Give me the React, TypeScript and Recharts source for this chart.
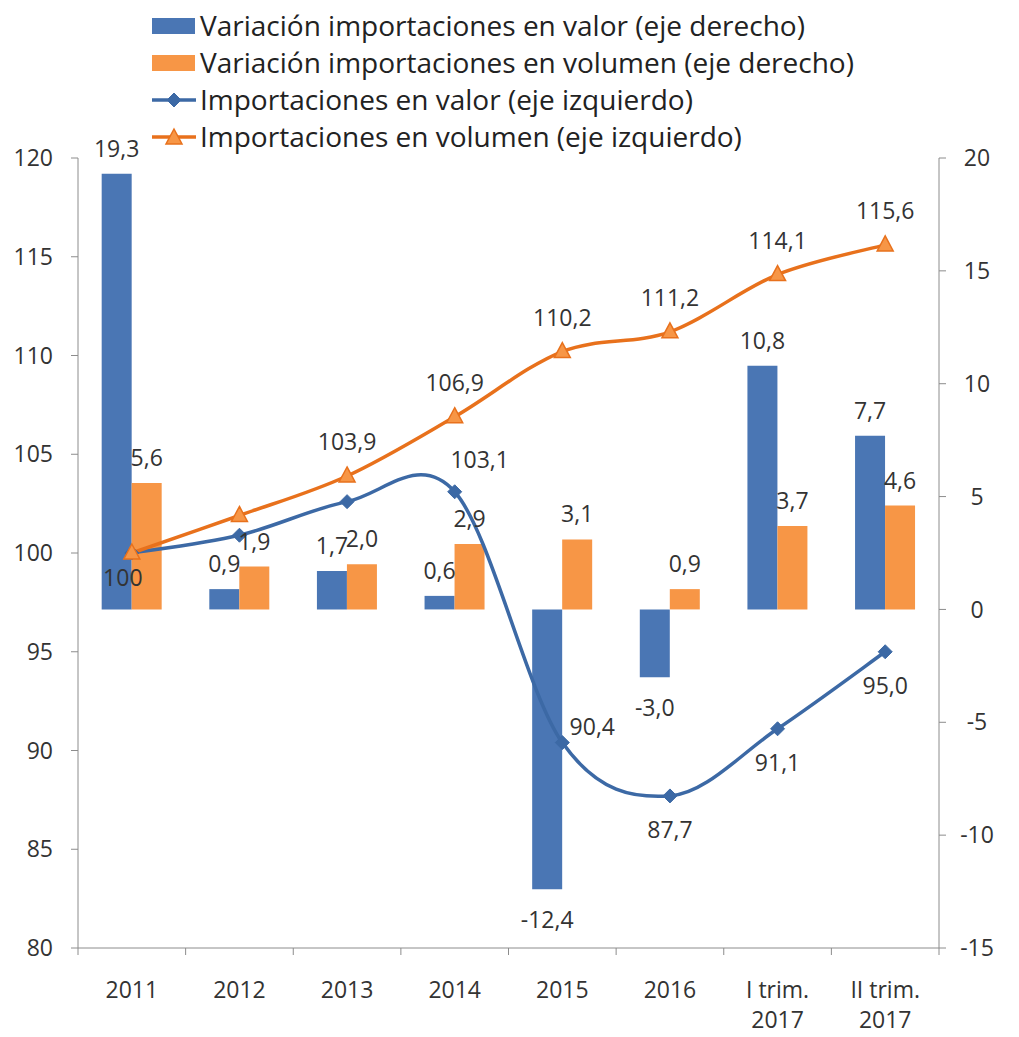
import React from "react";
import { ComposedChart, Bar, Line, XAxis, YAxis, LabelList, Legend } from "recharts";

const categories = ["2011", "2012", "2013", "2014", "2015", "2016", "I trim.\n2017", "II trim.\n2017"];
const valueChange = [19.3, 0.9, 1.7, 0.6, -12.4, -3.0, 10.8, 7.7];
const volumeChange = [5.6, 1.9, 2.0, 2.9, 3.1, 0.9, 3.7, 4.6];
const valueIndex = [100, 100.9, 102.6, 103.1, 90.4, 87.7, 91.1, 95.0];
const volumeIndex = [100, 101.9, 103.9, 106.9, 110.2, 111.2, 114.1, 115.6];
const leftTicks = [80, 85, 90, 95, 100, 105, 110, 115, 120];
const rightTicks = [-15, -10, -5, 0, 5, 10, 15, 20];

const seriesNames = [
  "Variación importaciones en valor (eje derecho)",
  "Variación importaciones en volumen (eje derecho)",
  "Importaciones en valor (eje izquierdo)",
  "Importaciones en volumen (eje izquierdo)",
];

// where each line label sits next to its point (null = no label)
const valueLabelSpots = ["belowLeft", null, null, "upRight", "right", "below", "below", "below"];
const volumeLabelSpots = [null, null, "above", "above", "above", "above", "above", "above"];

const rows = categories.map((name, i) => ({
  name,
  valueChange: valueChange[i],
  volumeChange: volumeChange[i],
  valueIndex: valueIndex[i],
  volumeIndex: volumeIndex[i],
}));

const FONT = "'Open Sans', sans-serif";
const TEXT = "#333333";
const AXIS = "#8c8c8c";
const BLUE_BAR = "#4a76b4";
const ORANGE_BAR = "#f79646";
const BLUE_LINE = "#3c69a5";
const ORANGE_LINE = "#e8711c";
const SIZE = 23;

const fmt = (v: number) => (v === 100 ? "100" : v.toFixed(1).replace(".", ","));

// Excel-like smoothed line (Catmull-Rom through the points)
const excelSmooth = (context: any) => {
  let pts: number[][] = [];
  return {
    areaStart() {},
    areaEnd() {},
    lineStart() {
      pts = [];
    },
    point(x: number, y: number) {
      pts.push([+x, +y]);
    },
    lineEnd() {
      const n = pts.length;
      if (!n) return;
      context.moveTo(pts[0][0], pts[0][1]);
      for (let i = 0; i < n - 1; i++) {
        const p0 = pts[Math.max(i - 1, 0)];
        const p1 = pts[i];
        const p2 = pts[i + 1];
        const p3 = pts[Math.min(i + 2, n - 1)];
        context.bezierCurveTo(
          p1[0] + (p2[0] - p0[0]) / 6,
          p1[1] + (p2[1] - p0[1]) / 6,
          p2[0] - (p3[0] - p1[0]) / 6,
          p2[1] - (p3[1] - p1[1]) / 6,
          p2[0],
          p2[1]
        );
      }
    },
  };
};

const Diamond = ({ cx, cy }: any) => (
  <polygon
    points={`${cx},${cy - 7} ${cx + 7},${cy} ${cx},${cy + 7} ${cx - 7},${cy}`}
    fill={BLUE_LINE}
    stroke={BLUE_LINE}
  />
);

const Triangle = ({ cx, cy }: any) => (
  <polygon
    points={`${cx},${cy - 9} ${cx + 8},${cy + 6} ${cx - 8},${cy + 6}`}
    fill={ORANGE_BAR}
    stroke={ORANGE_LINE}
    strokeWidth={1.5}
  />
);

const barLabel = (props: any) => {
  const { x, y, width, height, value } = props;
  const top = Math.min(y, y + height);
  const bottom = Math.max(y, y + height);
  return (
    <text
      x={x + width / 2}
      y={value < 0 ? bottom + 39 : top - 17}
      textAnchor="middle"
      fill={TEXT}
      fontSize={SIZE}
      fontFamily={FONT}
    >
      {fmt(value)}
    </text>
  );
};

const spotOffset: Record<string, [number, number]> = {
  above: [0, -26],
  below: [0, 42],
  belowLeft: [-9, 33],
  upRight: [25, -24],
  right: [30, -8],
};

const lineLabel = (spots: (string | null)[]) => (props: any) => {
  const { x, y, value, index } = props;
  const spot = spots[index];
  if (!spot) return null;
  const [dx, dy] = spotOffset[spot];
  return (
    <text x={x + dx} y={y + dy} textAnchor="middle" fill={TEXT} fontSize={SIZE} fontFamily={FONT}>
      {fmt(value)}
    </text>
  );
};

const CategoryTick = (props: any) => {
  const { x, y, payload, index, visibleTicksCount, width } = props;
  const half = payload.offset || width / visibleTicksCount / 2;
  const lines = String(payload.value).split("\n");
  return (
    <g>
      <line x1={x - half} y1={y} x2={x - half} y2={y + 7} stroke={AXIS} />
      {index === visibleTicksCount - 1 && (
        <line x1={x + half} y1={y} x2={x + half} y2={y + 7} stroke={AXIS} />
      )}
      <text x={x} y={y + 50} textAnchor="middle" fill={TEXT} fontSize={SIZE} fontFamily={FONT}>
        {lines.map((l, i) => (
          <tspan key={i} x={x} dy={i === 0 ? 0 : 30}>
            {l}
          </tspan>
        ))}
      </text>
    </g>
  );
};

const LegendIcon = ({ type, color }: any) => {
  if (type === "rect") {
    return <rect x={0} y={10} width={43} height={16} fill={color} />;
  }
  return (
    <g>
      <line x1={0} y1={18} x2={44} y2={18} stroke={color} strokeWidth={3.5} />
      {type === "diamond" ? <Diamond cx={22} cy={18} /> : <Triangle cx={22} cy={19} />}
    </g>
  );
};

const renderLegend = ({ payload }: any) => {
  const items = [...(payload || [])].sort(
    (a: any, b: any) => seriesNames.indexOf(a.value) - seriesNames.indexOf(b.value)
  );
  return (
    <div style={{ fontFamily: FONT, fontSize: 28, color: "#222" }}>
      {items.map((entry: any, i: number) => (
        <div key={i} style={{ display: "flex", alignItems: "center", height: 37, whiteSpace: "nowrap" }}>
          <svg width={48} height={36} style={{ flexShrink: 0 }}>
            <LegendIcon type={entry.type} color={entry.color} />
          </svg>
          <span style={{ lineHeight: "37px" }}>{entry.value}</span>
        </div>
      ))}
    </div>
  );
};

export default function App() {
  return (
    <ComposedChart
      width={1003}
      height={1029}
      data={rows}
      margin={{ top: 150, right: 0, bottom: 19, left: 0 }}
      barCategoryGap="22%"
      barGap={0}
    >
      <Legend
        layout="vertical"
        align="center"
        verticalAlign="middle"
        wrapperStyle={{ top: -1, left: 144, width: "auto" }}
        content={renderLegend}
      />
      <XAxis
        dataKey="name"
        tickSize={0}
        tickMargin={0}
        height={70}
        interval={0}
        axisLine={{ stroke: AXIS }}
        tickLine={false}
        tick={<CategoryTick />}
      />
      <YAxis
        yAxisId="left"
        orientation="left"
        width={70}
        domain={[80, 120]}
        ticks={leftTicks}
        interval={0}
        tickSize={7}
        tickMargin={18}
        axisLine={{ stroke: AXIS }}
        tickLine={{ stroke: AXIS }}
        tick={{ fill: TEXT, fontSize: SIZE, fontFamily: FONT }}
      />
      <YAxis
        yAxisId="right"
        orientation="right"
        width={72}
        domain={[-15, 20]}
        ticks={rightTicks}
        interval={0}
        tickSize={7}
        tickMargin={31}
        axisLine={{ stroke: AXIS }}
        tickLine={{ stroke: AXIS }}
        tick={{ fill: TEXT, fontSize: SIZE, fontFamily: FONT, textAnchor: "middle" }}
      />
      <Bar
        yAxisId="right"
        dataKey="valueChange"
        name={seriesNames[0]}
        fill={BLUE_BAR}
        legendType="rect"
        isAnimationActive={false}
      >
        <LabelList dataKey="valueChange" content={barLabel} />
      </Bar>
      <Bar
        yAxisId="right"
        dataKey="volumeChange"
        name={seriesNames[1]}
        fill={ORANGE_BAR}
        legendType="rect"
        isAnimationActive={false}
      >
        <LabelList dataKey="volumeChange" content={barLabel} />
      </Bar>
      <Line
        yAxisId="left"
        dataKey="valueIndex"
        name={seriesNames[2]}
        type={excelSmooth as any}
        stroke={BLUE_LINE}
        strokeWidth={3.5}
        dot={<Diamond />}
        activeDot={false}
        legendType="diamond"
        isAnimationActive={false}
      >
        <LabelList dataKey="valueIndex" content={lineLabel(valueLabelSpots)} />
      </Line>
      <Line
        yAxisId="left"
        dataKey="volumeIndex"
        name={seriesNames[3]}
        type={excelSmooth as any}
        stroke={ORANGE_LINE}
        strokeWidth={3.5}
        dot={<Triangle />}
        activeDot={false}
        legendType="triangle"
        isAnimationActive={false}
      >
        <LabelList dataKey="volumeIndex" content={lineLabel(volumeLabelSpots)} />
      </Line>
    </ComposedChart>
  );
}
